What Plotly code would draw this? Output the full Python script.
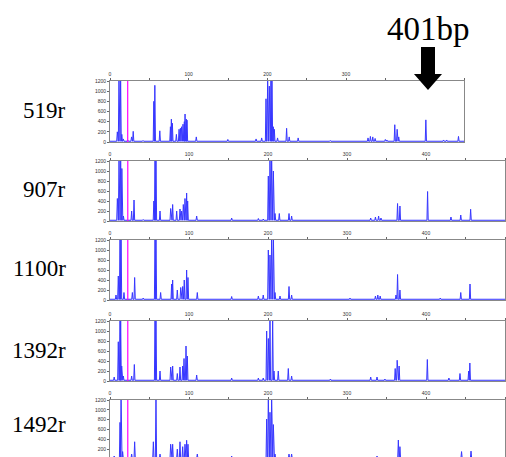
import plotly.graph_objects as go

# ---------------- data ----------------
samples = ["519r", "907r", "1100r", "1392r", "1492r"]

s519_bp = [9.3, 11.4, 13.5, 15, 17, 22.5, 27.4, 29.5, 42, 55.7, 57, 63.3, 76.8, 78, 79.3, 84.4, 87.8, 89.5, 91,
           92.8, 94.5, 95.4, 97, 97.9, 109.7, 149.8, 185.7, 192.8, 198.3, 200.4, 202.5, 204.6, 205.9, 207.6,
           208.9, 213, 224.5, 227.8, 239.2, 280, 328, 331, 334, 337, 350, 352, 362, 365, 367, 401.5, 424, 428, 443]
s519_h = [200, 1300, 1300, 150, 60, 40, 100, 210, 30, 800, 1115, 220, 300, 450, 370, 150, 250, 270, 300,
          350, 400, 550, 450, 430, 100, 50, 60, 80, 850, 1300, 1100, 1300, 1300, 300,
          250, 80, 270, 100, 80, 30, 80, 110, 100, 70, 50, 40, 340, 250, 100, 435, 40, 40, 110]

s907_bp = [9.3, 11.4, 13.5, 15, 17, 27.4, 30.4, 42, 55.5, 57, 58.2, 63.3, 76.8, 79.3, 84.4, 88.6, 90.7, 92.8,
           94.9, 97, 98.3, 109.7, 154, 187.8, 194, 200.4, 202.5, 204.6, 206.8, 208.9, 214.3, 226.6, 229.9,
           279.5, 330, 336, 340, 343, 364, 367, 402, 431.6, 444, 456.5]
s907_h = [450, 1300, 1300, 1050, 100, 200, 420, 30, 400, 1300, 1300, 200, 250, 330, 200, 240, 200, 330,
          450, 560, 400, 100, 60, 50, 40, 900, 1300, 1300, 1000, 150, 150, 150, 100,
          30, 60, 80, 100, 60, 350, 300, 590, 80, 120, 235]

s1100_bp = [7.6, 10.5, 12.7, 14, 17.7, 28.3, 31.2, 42, 57, 58.2, 64.1, 78, 79.3, 85.2, 89.5, 92, 94, 97, 98.7,
            110.5, 154, 187.8, 194, 200.4, 202.5, 204.6, 206.8, 208.9, 215.2, 226.6, 229.9, 279.5, 303.8,
            336, 339, 342, 362, 364, 367, 388, 418, 444, 455.7]
s1100_h = [100, 480, 1300, 1300, 150, 150, 450, 40, 1300, 1300, 150, 320, 400, 200, 250, 270, 400, 600, 450,
           150, 70, 80, 100, 1000, 900, 1300, 1300, 150, 80, 270, 100, 30, 40,
           80, 100, 80, 100, 510, 200, 30, 40, 150, 320]

s1392_bp = [5.3, 10.5, 12.7, 13.5, 14.8, 16.9, 27.4, 30.8, 57, 58.2, 63.3, 76.8, 79.3, 85.2, 88.6, 92, 93.7,
            96.2, 97.9, 109.7, 154, 187.8, 194, 198.3, 200.4, 202.5, 205.9, 207.6, 213, 225.7, 229.9, 279,
            330, 338, 348, 361, 363.5, 366, 401.7, 429, 443, 454, 455.5]
s1392_h = [80, 785, 1300, 1300, 300, 100, 100, 330, 1300, 1300, 200, 280, 300, 150, 280, 300, 450,
           700, 500, 120, 60, 60, 60, 1000, 850, 1300, 1300, 200, 200, 250, 100, 40,
           80, 80, 40, 250, 415, 300, 430, 60, 150, 200, 360]

s1492_bp = [5.3, 12.7, 14, 16, 27.4, 31.2, 54.9, 58.2, 63.3, 76.8, 79.3, 85.2, 88.6, 92, 94.9, 97, 98.7,
            110.5, 154, 198.3, 200.4, 202.5, 204.6, 206.8, 208.9, 226.6, 229.9, 279, 338, 365, 367, 445, 457]
s1492_h = [60, 745, 1300, 150, 100, 350, 350, 1300, 100, 300, 300, 200, 350, 250, 300, 380, 300,
           100, 60, 813, 1300, 950, 1300, 700, 100, 100, 100, 40, 60, 386, 250, 150, 160]

peak_bp = [s519_bp, s907_bp, s1100_bp, s1392_bp, s1492_bp]
peak_h = [s519_h, s907_h, s1100_h, s1392_h, s1492_h]

x_max = [450, 500, 500, 500, 500]
marker_bp = 22.5          # magenta size-standard line
y_ticks = [0, 200, 400, 600, 800, 1000, 1200]
x_ticks = [0, 50, 100, 150, 200, 250, 300, 350, 400, 450, 500]

# ---------------- layout geometry ----------------
W, H = 506, 457
x_left = 110 / W
x_right = [464 / W, 505 / W, 505 / W, 505 / W, 505 / W]
y_top_px = [81, 161, 240, 321, 400]
y_bot_px = [142, 221, 300, 381, 457]
y_low = [0, 0, 0, 0, 40]
label_y_px = [110, 190, 268, 350, 424]

BASE = 15
HALF_W = 0.8

fig = go.Figure()
layout = {}
for i in range(5):
    n = i + 1
    xs, ys = [0], [BASE]
    for p, h in sorted(zip(peak_bp[i], peak_h[i])):
        xs += [p - HALF_W, p, p + HALF_W]
        ys += [BASE, h, BASE]
    xs.append(x_max[i])
    ys.append(BASE)
    xa = "x" if n == 1 else f"x{n}"
    ya = "y" if n == 1 else f"y{n}"
    fig.add_trace(go.Scatter(x=xs, y=ys, mode="lines", xaxis=xa, yaxis=ya,
                             line=dict(color="rgb(55,55,255)", width=1),
                             fill="tozeroy", fillcolor="rgba(150,150,255,0.3)",
                             hoverinfo="skip", showlegend=False))
    fig.add_trace(go.Scatter(x=[marker_bp, marker_bp], y=[0, 1300], mode="lines", xaxis=xa, yaxis=ya,
                             line=dict(color="rgb(255,0,255)", width=1.2),
                             hoverinfo="skip", showlegend=False))
    ticks_here = [t for t in x_ticks if t <= x_max[i]]
    layout["xaxis" if n == 1 else f"xaxis{n}"] = dict(
        domain=[x_left, x_right[i]], range=[0, x_max[i]], anchor=ya, side="top",
        tickvals=ticks_here, ticktext=[str(t) if t % 100 == 0 else "" for t in ticks_here],
        ticks="outside", ticklen=2, tickcolor="#666", tickwidth=1, automargin=False,
        showline=True, linecolor="#888", linewidth=1, mirror=True,
        showgrid=False, zeroline=False, tickfont=dict(size=5, color="#333", family="Arial"),
    )
    layout["yaxis" if n == 1 else f"yaxis{n}"] = dict(
        domain=[1 - y_bot_px[i] / H, 1 - y_top_px[i] / H], range=[y_low[i], 1200], anchor=xa,
        tickvals=y_ticks, ticktext=[str(t) for t in y_ticks], automargin=False,
        ticks="outside", ticklen=2, tickcolor="#666", tickwidth=1,
        showline=True, linecolor="#888", linewidth=1, mirror=True,
        showgrid=False, zeroline=False, tickfont=dict(size=5, color="#333", family="Arial"),
    )

annotations = []
for i, s in enumerate(samples):
    annotations.append(dict(text=s, xref="paper", yref="paper", x=68 / W, y=1 - label_y_px[i] / H,
                            xanchor="right", yanchor="middle", showarrow=False,
                            font=dict(family="Liberation Serif", size=23, color="black")))
annotations.append(dict(text="401bp", xref="paper", yref="paper", x=428 / W, y=1 - 29 / H,
                        xanchor="center", yanchor="middle", showarrow=False,
                        font=dict(family="Liberation Serif", size=33, color="black")))

# downward arrow marker above 401 bp
def px(x, y):
    return f"{x / W:.5f},{1 - y / H:.5f}"

arrow_path = ("M " + px(421, 47) + " L " + px(435, 47) + " L " + px(435, 74) + " L " + px(442, 74) +
              " L " + px(428, 90) + " L " + px(414, 74) + " L " + px(421, 74) + " Z")

fig.update_layout(
    width=W, height=H, margin=dict(l=0, r=0, t=0, b=0, autoexpand=False),
    paper_bgcolor="white", plot_bgcolor="white",
    annotations=annotations,
    shapes=[dict(type="path", xref="paper", yref="paper", path=arrow_path,
                 fillcolor="black", line=dict(color="black", width=0))],
    **layout,
)

fig.write_html("out.html", config={"displayModeBar": False},
               post_script="document.body.style.margin='0';document.body.style.overflow='hidden';")
